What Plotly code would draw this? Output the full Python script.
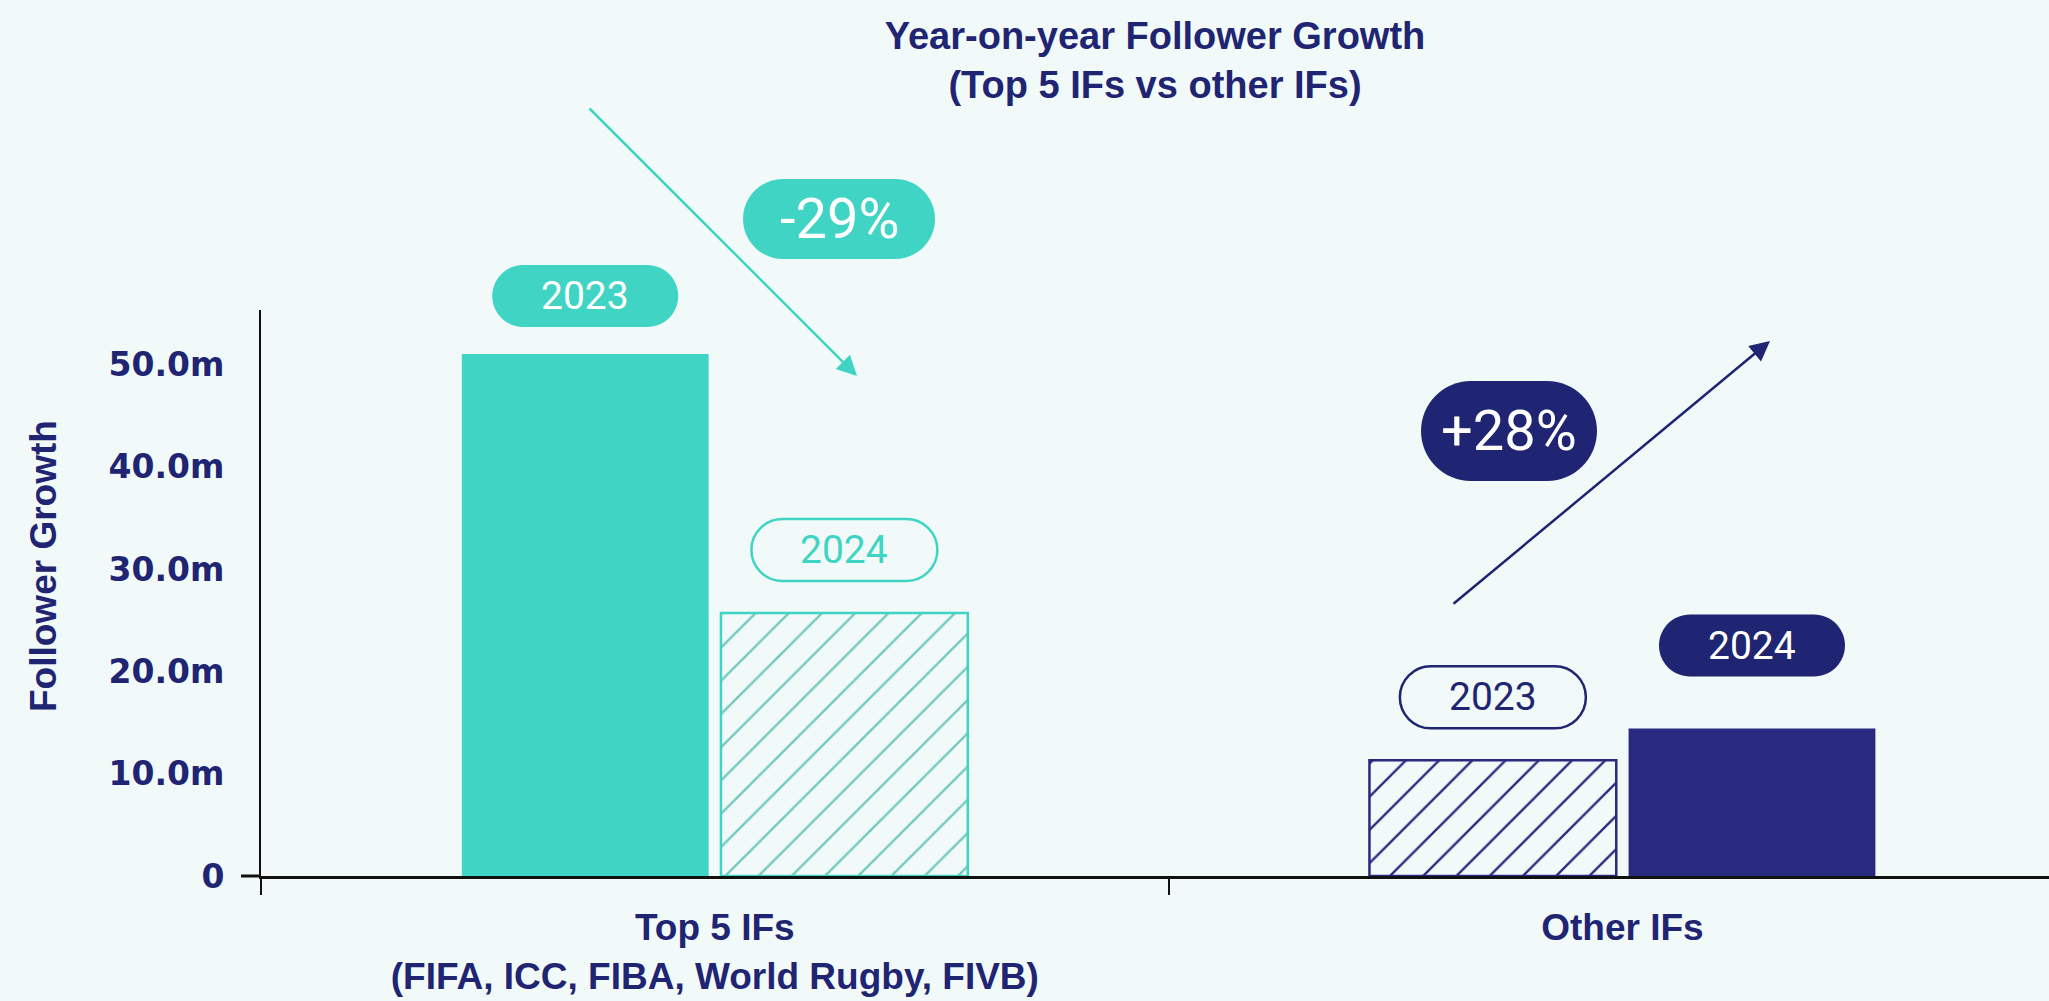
import plotly.graph_objects as go

# ---------------- data ----------------
categories = ["Top 5 IFs<br>(FIFA, ICC, FIBA, World Rugby, FIVB)", "Other IFs"]
years = ["2023", "2024"]
growth_2023 = [51.0, 11.3]
growth_2024 = [25.7, 14.4]
y_tick_vals = [0, 10, 20, 30, 40, 50]
y_tick_text = ["0", "10.0m", "20.0m", "30.0m", "40.0m", "50.0m"]
change_labels = ["-29%", "+28%"]

# ---------------- styles ----------------
W, H = 2049, 1001
ML, MR, MT, MB = 261, 0, 310, 125
PW, PH = W - ML - MR, H - MT - MB
XR = [-0.5, 1.47]
YR = [0, 55.3]
BARGAP = 0.429
BARGROUPGAP = 0.0475

TEAL = "#3fd4c3"
TEAL_HATCH = "#74c9bf"
NAVY = "#1f2573"
NAVY_BAR = "#29297f"
BG = "#f1faf8"
AXIS = "#111111"

def px_x(px):
    return (px - ML) / PW

def px_y(py):
    return (H - MB - py) / PH

def data_x(v):
    return (v - XR[0]) / (XR[1] - XR[0])

def data_y(v):
    return (v - YR[0]) / (YR[1] - YR[0])

def pill_path(w, h, cy=0.0):
    r = h / 2.0
    k = 0.5523 * r
    x0, x1 = -w / 2.0, w / 2.0
    y0, y1 = cy - h / 2.0, cy + h / 2.0
    return (f"M{x0 + r},{y0} L{x1 - r},{y0} "
            f"C{x1 - r + k},{y0} {x1},{cy - k} {x1},{cy} "
            f"C{x1},{cy + k} {x1 - r + k},{y1} {x1 - r},{y1} "
            f"L{x0 + r},{y1} "
            f"C{x0 + r - k},{y1} {x0},{cy + k} {x0},{cy} "
            f"C{x0},{cy - k} {x0 + r - k},{y0} {x0 + r},{y0} Z")

# bar style per (category index, year index)
bar_style = {
    (0, 0): dict(color=TEAL, hatch=None, outline=TEAL),
    (1, 0): dict(color=BG, hatch=NAVY_BAR, outline=NAVY_BAR),
    (0, 1): dict(color=BG, hatch=TEAL_HATCH, outline=TEAL),
    (1, 1): dict(color=NAVY_BAR, hatch=None, outline=NAVY_BAR),
}

fig = go.Figure()
series = [growth_2023, growth_2024]
for j, vals in enumerate(series):
    for i, v in enumerate(vals):
        st = bar_style[(i, j)]
        marker = dict(color=st["color"])
        if st["hatch"]:
            marker["pattern"] = dict(shape="/", fgcolor=st["hatch"], bgcolor=BG,
                                     fgopacity=1, size=23.5, solidity=0.1)
            marker["line"] = dict(color=st["outline"], width=2.5)
        else:
            marker["line"] = dict(width=0)
        fig.add_trace(go.Bar(
            x=[categories[i]], y=[v], name=years[j],
            offsetgroup=years[j], marker=marker,
            hoverinfo="x+y",
        ))

shapes = []
annotations = []

# year pills above each bar
slot = (1 - BARGAP) / 2.0
pill_style = {
    (0, 0): dict(fill=TEAL, line=TEAL, text="white", lw=0, dy=58),
    (0, 1): dict(fill=BG, line=TEAL, text=TEAL, lw=2.5, dy=63),
    (1, 0): dict(fill=BG, line=NAVY, text=NAVY, lw=2.5, dy=63),
    (1, 1): dict(fill=NAVY, line=NAVY, text="white", lw=0, dy=83),
}
for j, vals in enumerate(series):
    for i, v in enumerate(vals):
        st = pill_style[(i, j)]
        xa = data_x(i + (j - 0.5) * slot)
        ya = data_y(v)
        shapes.append(dict(
            type="path", xref="paper", yref="paper",
            xsizemode="pixel", ysizemode="pixel",
            xanchor=xa, yanchor=ya,
            path=pill_path(186, 62, st["dy"]),
            fillcolor=st["fill"],
            line=dict(color=st["line"], width=st["lw"]),
            layer="above",
        ))
        annotations.append(dict(
            x=xa, y=ya, xref="paper", yref="paper", yshift=st["dy"],
            text=years[j], showarrow=False, xanchor="center", yanchor="middle",
            font=dict(family="Roboto", size=39, color=st["text"], weight=400),
        ))

# change pills
change_pills = [
    dict(cx=839, cy=219, w=192, h=80, fill=TEAL),
    dict(cx=1509, cy=431, w=176, h=100, fill=NAVY),
]
for lab, cp in zip(change_labels, change_pills):
    shapes.append(dict(
        type="path", xref="paper", yref="paper",
        xsizemode="pixel", ysizemode="pixel",
        xanchor=px_x(cp["cx"]), yanchor=px_y(cp["cy"]),
        path=pill_path(cp["w"], cp["h"], 0),
        fillcolor=cp["fill"], line=dict(width=0), layer="above",
    ))
    annotations.append(dict(
        x=px_x(cp["cx"]), y=px_y(cp["cy"]), xref="paper", yref="paper",
        text=lab, showarrow=False, xanchor="center", yanchor="middle",
        font=dict(family="Roboto", size=56, color="white", weight=400),
    ))

# arrows
arrows = [
    dict(tail=(588, 107), tip=(857, 376), color=TEAL),
    dict(tail=(1452, 605), tip=(1770, 341), color=NAVY),
]
for a in arrows:
    annotations.append(dict(
        x=px_x(a["tip"][0]), y=px_y(a["tip"][1]), xref="paper", yref="paper",
        ax=a["tail"][0] - a["tip"][0], ay=a["tail"][1] - a["tip"][1],
        text="", showarrow=True, arrowhead=2, arrowsize=1.6, arrowwidth=2.5,
        arrowcolor=a["color"], standoff=0, startstandoff=0,
    ))

# y-axis title
annotations.append(dict(
    x=px_x(43), y=px_y(566), xref="paper", yref="paper",
    text="Follower Growth", textangle=-90, showarrow=False,
    xanchor="center", yanchor="middle",
    font=dict(family="Liberation Sans", size=37, color=NAVY, weight="bold"),
))

# x-axis line extension to the left of the y axis
shapes.append(dict(type="line", xref="paper", yref="paper",
                   x0=-20 / PW, x1=0, y0=0, y1=0,
                   line=dict(color=AXIS, width=3)))

fig.update_layout(
    width=W, height=H,
    margin=dict(l=ML, r=MR, t=MT, b=MB, pad=0),
    paper_bgcolor=BG, plot_bgcolor=BG,
    barmode="group", bargap=BARGAP, bargroupgap=BARGROUPGAP,
    showlegend=False,
    title=dict(
        text="Year-on-year Follower Growth<br>(Top 5 IFs vs other IFs)",
        x=0.5, xref="paper", xanchor="center",
        y=1 - 48.5 / H, yref="container", yanchor="middle",
        font=dict(family="Liberation Sans", size=38, color=NAVY, weight="bold"),
    ),
    xaxis=dict(
        type="category", range=XR, tickson="boundaries",
        categoryorder="array", categoryarray=categories,
        ticks="outside", ticklen=16, tickwidth=2, tickcolor=AXIS,
        showline=True, linecolor=AXIS, linewidth=3,
        showgrid=False, zeroline=False,
        ticklabelstandoff=17,
        tickfont=dict(family="Liberation Sans", size=37, color=NAVY, weight="bold"),
    ),
    yaxis=dict(
        range=YR, showline=True, linecolor=AXIS, linewidth=2,
        showgrid=False, zeroline=False, ticks="",
        tickmode="array", tickvals=y_tick_vals, ticktext=y_tick_text,
        tickfont=dict(family="DejaVu Sans", size=33, color=NAVY, weight="bold"),
        ticklabelstandoff=28,
    ),
    shapes=shapes,
    annotations=annotations,
)

fig.write_html(
    "out.html",
    config={"displayModeBar": False},
    post_script="document.body.style.margin='0';document.body.style.overflow='hidden';",
)
